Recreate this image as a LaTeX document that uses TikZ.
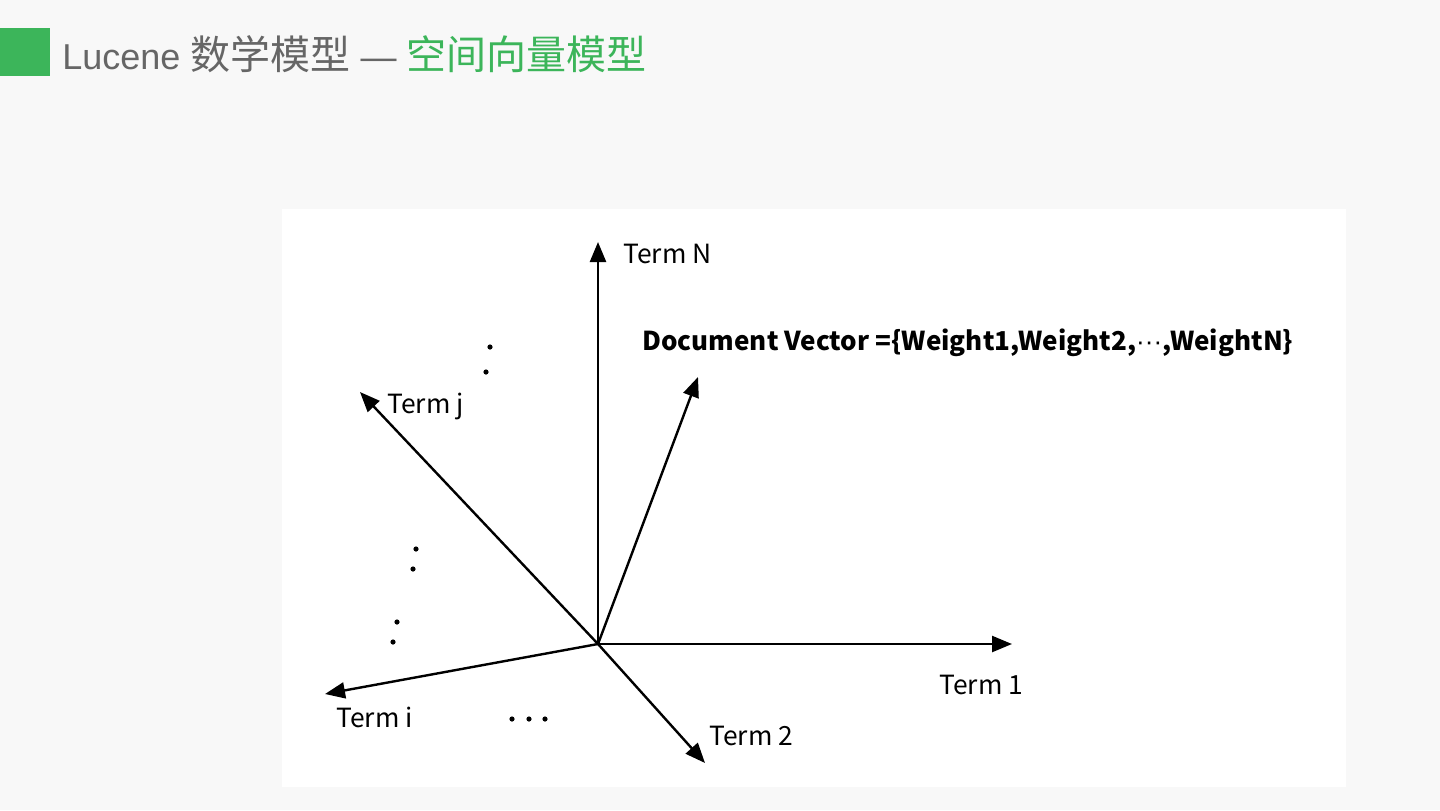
\documentclass[tikz,border=0pt]{standalone}
\usepackage{fontspec}
\setmainfont{Liberation Sans}
\newfontfamily\cjk{Noto Sans CJK SC}
\usetikzlibrary{arrows.meta}
\definecolor{bggray}{HTML}{F8F8F8}
\definecolor{titlegray}{HTML}{666666}
\definecolor{titlegreen}{HTML}{3CB55A}

\begin{document}
\begin{tikzpicture}[x=0.5pt, y=-0.5pt,
  axis/.style={-{Triangle[length=10pt, width=8pt]}, line width=1.2pt, black},
  lbl/.style={anchor=west, inner sep=0pt, font=\cjk\fontsize{13.2}{15}\selectfont},
  dot/.style={fill=black}]
\useasboundingbox (0,0) rectangle (1440,810);
% background and panel
\fill[bggray] (0,0) rectangle (1440,810);
\fill[white] (282,209) rectangle (1346,787);
% title
\fill[titlegreen] (0,28) rectangle (50,76);
\node[anchor=west, inner sep=0pt, font=\fontsize{18}{22}\selectfont, text=titlegray] (title) at (62,54)
  {Lucene {\cjk\fontsize{20}{22}\selectfont 数学模型} — {\color{titlegreen}\cjk\fontsize{20}{22}\selectfont 空间向量模型}};
% axes
\coordinate (O) at (598,644);
\coordinate (tN) at (598,242);
\coordinate (t1) at (1012,644);
\coordinate (t2) at (705,763);
\coordinate (ti) at (325,694);
\coordinate (tj) at (360,392);
\coordinate (doc) at (698,377);
\draw[axis] (O) -- (tN);
\draw[axis] (O) -- (t1);
\draw[axis] (O) -- (t2);
\draw[axis] (O) -- (ti);
\draw[axis] (O) -- (tj);
\draw[axis] (O) -- (doc);
% labels
\node[lbl] (labN) at (623,254) {Term N};
\node[lbl] (lab1) at (939,685) {Term 1};
\node[lbl] (lab2) at (709,736) {Term 2};
\node[lbl] (labi) at (336,717) {Term i};
\node[lbl] (labj) at (387,406) {Term j};
\node[lbl, font=\cjk\bfseries\fontsize{13}{15}\selectfont] (labdoc) at (642,343)
  {Document Vector =\{Weight1,Weight2,{\rmfamily\mdseries ···},WeightN\}};
% dots
\foreach \x/\y in {490/347, 486/372, 416/549, 413/569, 397/622, 393/642, 512/719, 529/719, 545/719}
  \fill[dot] (\x,\y) circle (2.6);
\end{tikzpicture}
\end{document}
